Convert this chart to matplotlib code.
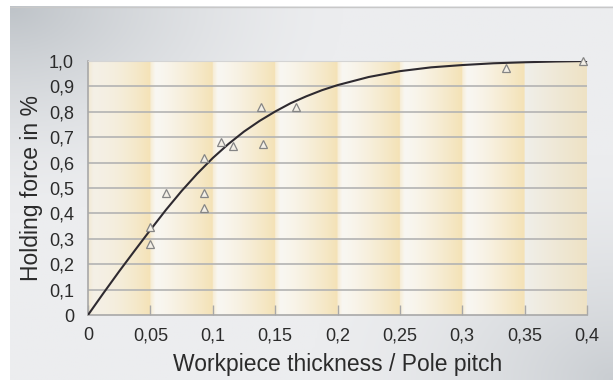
import matplotlib
matplotlib.use("Agg")
import matplotlib.pyplot as plt
import numpy as np

# fitted curve
curve_x = [0, 0.0125, 0.025, 0.0375, 0.05, 0.0625, 0.075, 0.0875, 0.1, 0.1125,
           0.125, 0.1375, 0.15, 0.1625, 0.175, 0.1875, 0.2, 0.225, 0.25, 0.275,
           0.3, 0.325, 0.35, 0.375, 0.4]
curve_y = [0, 0.087, 0.172, 0.254, 0.335, 0.414, 0.488, 0.556, 0.618, 0.673,
           0.722, 0.764, 0.801, 0.834, 0.861, 0.885, 0.905, 0.937, 0.96, 0.975,
           0.984, 0.991, 0.995, 0.998, 1.0]

# measured points
meas_x = [0.050, 0.050, 0.0625, 0.093, 0.093, 0.093, 0.107, 0.116, 0.139, 0.140,
          0.167, 0.335, 0.397]
meas_y = [0.348, 0.28, 0.48, 0.62, 0.48, 0.42, 0.68, 0.665, 0.818, 0.672,
          0.82, 0.972, 1.0]

x_ticks = [0, 0.05, 0.1, 0.15, 0.2, 0.25, 0.3, 0.35, 0.4]
x_labels = ["0", "0,05", "0,1", "0,15", "0,2", "0,25", "0,3", "0,35", "0,4"]
y_ticks = [0, 0.1, 0.2, 0.3, 0.4, 0.5, 0.6, 0.7, 0.8, 0.9, 1.0]
y_labels = ["0", "0,1", "0,2", "0,3", "0,4", "0,5", "0,6", "0,7", "0,8", "0,9", "1,0"]

plt.rcParams["font.family"] = ["Liberation Sans", "DejaVu Sans"]
text_color = "#2b2b2b"

W, H = 613, 380
fig = plt.figure(figsize=(W / 100, H / 100), dpi=100)
fig.patch.set_facecolor("white")

# grey gradient panel behind everything
bg = fig.add_axes([10 / W, 0, 1 - 10 / W, 1 - 6 / H], zorder=0)
gx, gy = np.meshgrid(np.linspace(0, 1, 300), np.linspace(0, 1, 200))
light = np.array([236, 237, 239]) / 255
dark = np.array([190, 195, 200]) / 255
d_tl = np.clip(1 - np.hypot(gx / 0.55, gy / 0.55), 0, 1) ** 1.5
d_br = np.clip(1 - np.hypot((1 - gx) / 0.5, (1 - gy) / 0.6), 0, 1) ** 1.5 * 0.75
k = np.clip(d_tl + d_br, 0, 1)[..., None]
bg.imshow(light * (1 - k) + dark * k, aspect="auto", extent=(0, 1, 1, 0))
bg.axhline(0.002, color="#c8c8c8", lw=1)
bg.set_axis_off()

ax = fig.add_axes([88 / W, 1 - 315 / H, (587 - 88) / W, (315 - 61) / H], zorder=1)

# vertical light bands, white on the left fading into pale yellow
white = np.array([249, 247, 242]) / 255
yellow = np.array([244, 226, 182]) / 255
n = 800
xs = np.linspace(0, 0.4, n)
t = (xs % 0.05) / 0.05
t[-1] = 1.0
w = np.where(t < 0.08, 0.5 + 0.5 * t / 0.08, 1 - ((t - 0.08) / 0.92) ** 1.3)
band = white * w[:, None] + yellow * (1 - w[:, None])
first = xs < 0.05
band[first] = band[first] * 0.6 + np.array([236, 228, 208]) / 255 * 0.4 * (1 - t[first])[:, None] \
    + band[first] * 0.4 * t[first][:, None]
last = xs >= 0.35
band[last] = (np.array([240, 239, 234]) / 255 * (1 - t[last])[:, None]
              + np.array([238, 226, 196]) / 255 * t[last][:, None])
ax.imshow(band[None, :, :], aspect="auto", extent=(0, 0.4, 0, 1), zorder=0)

for y in y_ticks[1:-1]:
    ax.axhline(y, color="#b3b3b3", lw=1.2, zorder=1)

ax.plot(curve_x, curve_y, color="#2e2a30", lw=1.5, zorder=3)
ax.plot(meas_x, meas_y, linestyle="none", marker="^", ms=6, mfc="#f3efe6",
        mec="#858585", mew=0.9, zorder=4, clip_on=False)

ax.set_xlim(0, 0.4)
ax.set_ylim(0, 1)
ax.set_xticks(x_ticks)
ax.set_xticklabels(x_labels)
ax.set_yticks(y_ticks)
ax.set_yticklabels(y_labels)
ax.tick_params(axis="x", direction="in", length=7, width=1, color="#a8a8a8",
               pad=9, labelsize=13, labelcolor=text_color)
ax.tick_params(axis="y", length=0, pad=10, labelsize=13, labelcolor=text_color)

for side in ("left", "bottom"):
    ax.spines[side].set_color("#a8a8a8")
    ax.spines[side].set_linewidth(1.2)
ax.spines["top"].set_color("#d4d4d4")
ax.spines["right"].set_visible(False)

ax.set_xlabel("Workpiece thickness / Pole pitch", fontsize=16.5, color=text_color, labelpad=6)
ax.set_ylabel("Holding force in %", fontsize=16.5, color=text_color, labelpad=4)

fig.savefig("out.png", dpi=100)
